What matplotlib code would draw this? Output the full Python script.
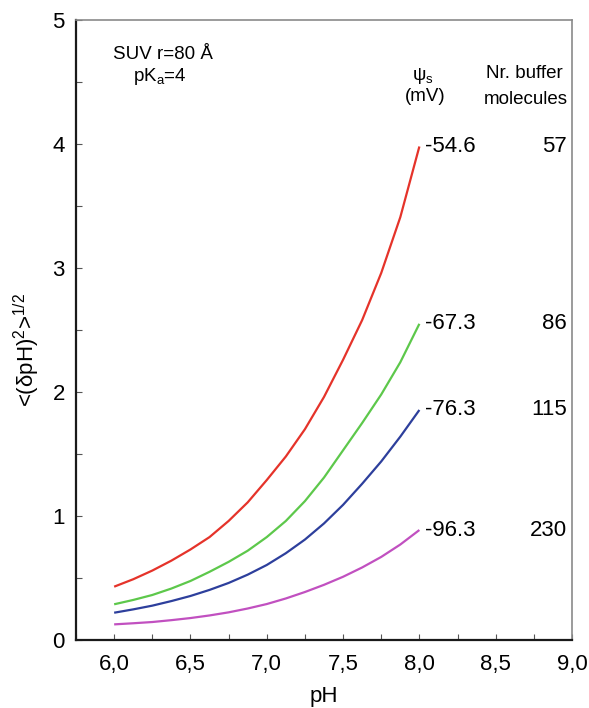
import matplotlib
matplotlib.use("Agg")
import matplotlib.pyplot as plt
from matplotlib.ticker import MultipleLocator

plt.rcParams['font.family'] = ['Liberation Sans', 'DejaVu Sans']
plt.rcParams['mathtext.fontset'] = 'custom'
plt.rcParams['mathtext.rm'] = 'Liberation Sans'
plt.rcParams['mathtext.it'] = 'Liberation Sans:italic'
plt.rcParams['mathtext.bf'] = 'Liberation Sans:bold'

# Data
ph = [6.0, 6.125, 6.25, 6.375, 6.5, 6.625, 6.75, 6.875, 7.0,
      7.125, 7.25, 7.375, 7.5, 7.625, 7.75, 7.875, 8.0]
red = [0.43, 0.49, 0.56, 0.64, 0.73, 0.83, 0.96, 1.11, 1.29,
       1.48, 1.70, 1.96, 2.26, 2.58, 2.96, 3.41, 3.98]
green = [0.288, 0.323, 0.363, 0.415, 0.476, 0.55, 0.63, 0.72, 0.83,
         0.96, 1.12, 1.31, 1.53, 1.75, 1.98, 2.24, 2.55]
blue = [0.22, 0.247, 0.277, 0.314, 0.355, 0.404, 0.46, 0.527, 0.605,
        0.70, 0.81, 0.94, 1.09, 1.26, 1.44, 1.64, 1.855]
magenta = [0.126, 0.135, 0.145, 0.160, 0.177, 0.198, 0.223, 0.254, 0.29,
           0.335, 0.387, 0.445, 0.51, 0.585, 0.67, 0.77, 0.887]

psi_labels = ['-54.6', '-67.3', '-76.3', '-96.3']
nr_labels = ['57', '86', '115', '230']

xticks = [6.0, 6.5, 7.0, 7.5, 8.0, 8.5, 9.0]
xticklabels = ['6,0', '6,5', '7,0', '7,5', '8,0', '8,5', '9,0']
yticks = [0, 1, 2, 3, 4, 5]

series = [red, green, blue, magenta]
colors = ['#e5332a', '#5dc84b', '#2d3f9c', '#c150c0']

fig = plt.figure(figsize=(5.89, 7.08), dpi=100)
ax = fig.add_axes([76/589, 1-640/708, (572-76)/589, (640-20)/708])

for ys, c, pl, nl in zip(series, colors, psi_labels, nr_labels):
    ax.plot(ph, ys, color=c, lw=1.6, solid_capstyle='butt')
    ax.text(8.04, ys[-1], pl, fontsize=16, ha='left', va='center')
    ax.text(8.965, ys[-1], nl, fontsize=16, ha='right', va='center')

ax.set_xlim(5.75, 9.0)
ax.set_ylim(0, 5)
ax.set_xticks(xticks)
ax.set_xticklabels(xticklabels)
ax.set_yticks(yticks)
ax.xaxis.set_minor_locator(MultipleLocator(0.25))
ax.yaxis.set_minor_locator(MultipleLocator(0.5))
ax.tick_params(axis='both', which='both', direction='in', labelsize=16,
               top=False, right=False, width=0.8, color='#555555', length=4)
ax.tick_params(axis='x', pad=10)
ax.tick_params(axis='y', pad=8)

for s in ['left', 'bottom']:
    ax.spines[s].set_linewidth(1.6)
    ax.spines[s].set_color('#1a1a1a')
for s in ['top', 'right']:
    ax.spines[s].set_linewidth(1.2)
    ax.spines[s].set_color('#8a8a8a')

ax.set_xlabel('pH', fontsize=16, labelpad=8)
ax.set_ylabel(r'<(δpH)$^{\mathrm{2}}$>$^{\mathrm{1/2}}$', fontsize=16)
ax.yaxis.set_label_coords(-0.068, 0.468)

ax.text(6.318, 4.685, 'SUV r=80 Å', fontsize=13.5, ha='center', va='baseline')
ax.text(6.30, 4.51, r'pK$_{\mathrm{a}}$=4', fontsize=13.5, ha='center', va='baseline')
ax.text(8.025, 4.55, r'ψ$_{\mathrm{s}}$', fontsize=13.5, ha='center', va='center')
ax.text(8.037, 4.38, '(mV)', fontsize=13.5, ha='center', va='center')
ax.text(8.685, 4.565, 'Nr. buffer', fontsize=13.5, ha='center', va='center')
ax.text(8.70, 4.36, 'molecules', fontsize=13.5, ha='center', va='center')

fig.savefig('out.png', dpi=100)
